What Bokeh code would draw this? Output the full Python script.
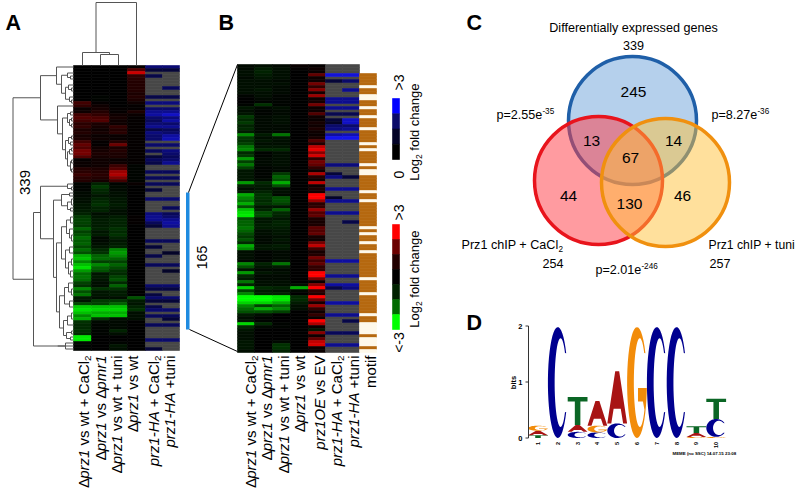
import math
import numpy as np
from bokeh.plotting import figure
from bokeh.models import ColumnDataSource, LinearColorMapper, Range1d
from bokeh.transform import transform
from bokeh.core.properties import value
from bokeh.embed import file_html
from bokeh.resources import INLINE

N = None
# ---------- Panel A heat map, tenths of log2 fold change, one list per column ----------
a_cacl2 = [0,0,0,0,0,0,0,0,0,0,
           0,0,10,8,2,3,10,12,10,7,
           8,5,6,4,5,10,14,12,16,16,
           12,1,2,2,6,7,9,7,6,-1,
           -1,-1,-2,-2,-3,-3,-4,-4,-5,-6,
           -9,-10,-10,-9,-14,-10,-12,-15,-13,-14,
           -11,-15,-12,-22,-24,-18,-24,-27,-20,-15,
           -16,-15,-10,-8,-18,-12,-16,-5,-4,-11,
           -25,-27,-24,-18,-22,-8,-7,-7,-8,-7,
           -28,-28,-2,-1,-1]
a_pmr1 = [0,0,0,0,0,0,0,0,0,0,
          -1,-1,1,3,4,6,8,11,12,5,
          4,3,4,2,3,1,1,3,4,5,
          4,3,3,3,5,6,7,6,4,-6,
          -9,-7,-6,-4,-6,-7,-8,-6,-6,-3,
          -4,-5,-5,-5,-6,-4,-5,-2,-2,-3,
          -4,-7,-8,-14,-15,-10,-18,-14,-12,-4,
          -5,-4,-3,-3,-8,-4,-4,-3,-9,-10,
          -24,-26,-22,-24,-8,-2,-1,-1,-1,-1,
          0,0,0,0,0]
a_tuni = [0,0,0,0,0,0,0,0,0,0,
          0,0,0,0,1,1,3,4,3,3,
          8,6,7,2,2,6,15,5,6,5,
          5,2,3,9,12,20,22,17,10,-1,
          -2,-2,-3,-3,-4,-4,-5,-4,-3,-3,
          -5,-6,-6,-6,-8,-7,-8,-6,-4,-5,
          -6,-18,-20,-18,-14,-10,-14,-11,-8,-7,
          -10,-12,-7,-14,-8,-5,-5,-3,-9,-14,
          -24,-26,-22,-24,-3,-2,-2,-2,-6,-3,
          0,0,-1,-4,-3]
a_wt = [1,12,25,8,7,6,6,6,6,5,
        6,5,3,1,1,5,2,1,1,1,
        1,1,1,1,1,1,1,1,1,1,
        1,1,1,-1,-1,-1,-1,-1,-1,2,
        0,0,0,0,0,0,0,0,0,0,
        1,1,1,0,0,0,0,0,0,0,
        0,0,0,0,0,0,0,0,0,0,
        0,0,0,0,0,0,0,-12,-5,-4,
        -6,-8,-3,-3,-3,0,0,0,0,0,
        0,0,0,0,0]
a_ha_cacl2 = [15,8,N,10,N,N,N,N,N,N,
              10,N,16,N,14,18,20,14,12,15,
              18,10,16,14,14,N,14,N,12,N,
              8,12,10,N,N,12,N,12,N,12,
              N,8,N,N,14,N,N,N,N,16,
              18,18,12,8,N,N,N,N,12,N,
              8,N,N,10,N,N,12,N,N,N,
              N,N,N,14,9,N,9,14,8,N,
              10,14,N,12,N,N,12,N,N,N,
              N,14,N,N,8]
a_ha_tuni = [15,8,N,N,N,N,N,12,N,N,
             10,N,16,N,14,18,24,16,20,14,
             18,12,14,20,22,N,14,N,16,14,
             12,14,18,N,N,12,N,12,N,12,
             N,N,N,N,14,N,N,12,N,12,
             14,18,20,18,N,N,N,N,12,N,
             N,N,6,N,N,N,12,N,6,N,
             N,N,N,14,9,N,N,14,8,N,
             N,14,N,12,8,N,12,N,N,N,
             N,14,N,N,N]

# ---------- Panel B heat map ----------
b_cacl2 = [-2,-2,-3,-3,-2,-3,-3,-3,-3,-3,
           -1,0,0,-1,-4,-3,-4,-9,-7,-9,
           -6,-7,-5,-18,-9,-8,-10,-16,-18,-7,
           -9,-20,-10,-16,-10,-4,-4,-4,-4,-20,
           -6,-3,-5,-22,-18,-16,-22,-12,-24,-27,
           -28,-12,-14,-14,-16,-14,-11,-9,-12,-7,
           -22,-18,-3,-3,-3,-2,-18,-12,-4,-20,
           -7,-5,-16,-6,-26,-10,-18,-30,-30,-26,
           -18,-15,-12,-5,-3,-4,-26,-7,-4,-3,
           -3,-3,-4,-4,-4,-3]
b_pmr1 = [-3,-5,-6,-5,-4,-3,-3,-3,-4,-3,
          -3,-2,-1,-8,-2,-1,-1,-2,-2,-2,
          -2,-2,-2,-5,-3,-4,-3,-4,-7,-1,
          -1,-2,-2,-2,-1,-1,-1,-1,-2,-7,
          -5,-4,-6,-8,-8,-7,-8,-4,-6,-11,
          -11,-4,-4,-5,-5,-3,-3,-2,-2,-2,
          -4,-4,-1,-1,-1,-1,-6,-4,-2,-4,
          -2,-2,-3,-3,-7,-5,-6,-30,-30,-26,
          -10,-22,-12,-3,-1,-1,-7,-2,0,0,
          0,0,0,0,0,0]
b_tuni = [-2,-3,-3,-3,-3,-2,-3,-2,-2,-2,
          -1,-1,-1,-1,-3,-2,-2,-3,-3,-3,
          -2,-2,-2,-16,-4,-3,-3,-4,-7,-3,
          -3,-3,-3,-3,-2,-2,-9,-14,-12,-22,
          -12,-3,-3,-2,-12,-12,-10,-4,-14,-7,
          -6,-4,-6,-6,-5,-4,-4,-3,-4,-3,
          -5,-4,-2,-2,-2,-3,-16,-5,-2,-3,
          -2,-2,-3,-3,-6,-4,-6,-28,-28,-22,
          -14,-18,-10,0,0,0,-1,-1,0,0,
          0,0,-2,-8,-8,-6]
b_wt = [2,1,0,0,0,0,0,0,0,0,
        0,0,0,0,0,0,0,0,0,0,
        0,0,0,0,0,0,0,0,0,0,
        0,0,0,0,0,0,0,0,0,0,
        0,0,0,0,0,0,0,0,0,0,
        0,0,0,0,0,0,0,0,0,0,
        0,0,0,0,0,0,0,0,0,0,
        0,0,0,-3,-22,-2,0,-7,-7,-5,
        -3,-3,0,0,0,0,0,0,0,0,
        0,0,0,0,0,0]
b_oe = [1,3,2,14,3,3,16,8,18,4,
        20,3,4,16,3,3,12,3,2,4,
        3,5,3,2,4,12,6,24,28,18,
        26,8,16,14,8,3,22,6,3,24,
        3,5,4,30,30,20,7,8,20,12,
        14,5,4,5,13,12,14,4,3,16,
        24,10,4,6,16,10,14,8,8,30,
        30,16,2,18,30,8,6,30,16,4,
        20,8,3,8,3,30,22,2,-4,18,
        3,14,24,26,3,2]
b_ha_cacl2 = [N,N,N,26,N,8,N,N,N,N,
              N,18,18,N,18,N,11,N,8,6,
              14,16,N,20,28,N,N,N,N,N,
              N,N,N,16,N,N,8,16,N,N,
              N,18,N,N,6,18,N,N,N,18,
              N,N,N,N,N,N,N,N,N,N,
              N,N,N,N,N,20,N,N,N,N,
              18,N,N,20,10,N,N,N,N,20,
              N,N,N,18,N,N,N,N,N,12,
              N,N,N,18,N,N]
b_ha_tuni = [N,N,N,26,N,14,N,N,18,N,
             N,18,18,N,18,N,11,N,24,24,
             14,18,N,22,28,N,N,N,N,N,
             N,N,N,16,N,N,N,8,N,N,
             N,18,N,N,N,18,N,N,N,18,
             N,N,10,N,N,N,N,N,N,N,
             N,N,N,N,N,20,N,N,N,N,
             18,N,N,20,16,N,N,N,N,20,
             N,N,N,18,N,10,N,N,N,12,
             N,N,N,18,N,N]
b_motif = [N,N,N,1,1,1,1,0,1,1,
           0,0,1,1,0,1,1,0,1,1,
           1,0,1,1,1,1,0,1,0,1,
           1,1,1,0,1,0,0,1,1,1,
           1,1,0,1,1,0,1,1,1,1,
           1,1,1,1,0,1,0,1,1,0,
           1,1,0,1,1,1,1,1,1,1,
           1,0,1,1,1,1,0,1,1,1,
           1,1,1,0,1,1,0,0,0,0,
           1,0,0,0,1,0]

colorbar_rg = [30, 15, 6, 0, -6, -15, -30]
colorbar_blue = [30, 14, 6, 0]

# Dendrograms: [height, child, child]; a leaf is a row or column number
column_tree = [63, [13, 0, [11, 1, 2]], 3]
row_tree = [60.5,
  [33,
    [17, 0, [12, [6, 2, [3, 3, 4]], [8, [5, 6, [2, 7, 8]], [4, 10, [2, 11, 12]]]]],
    [16, 13, [11, [6, [3, 15, 16], [4, [2, 17, 18], [2, 19, 20]]],
                  [8, [5, [2, 23, 24], [3, 25, 26]],
                      [6, [4, [2, 27, 28], 29], [3, [2, 31, 32], [2, 34, 35]]]]]]],
  [40,
    [33,
      [6, 39, [2, 40, 41]],
      [20,
        [12, [4, 42, 43], [6, [2, 44, 46], [3, 47, 48]]],
        [17,
          [12, [7, [3, 50, 52], [4, 54, [2, 56, 58]]], [8, [4, 60, 62], [5, [2, 64, 66], [3, 68, 70]]]],
          [14, [9, [5, 72, [2, 74, 76]], [4, 78, 80]], [10, [6, [2, 82, 84], 86], [7, [2, 88, 89], [3, 90, 91]]]]]]],
    [16, 93, [8, 92, 94]]]]

# Sequence logo: letters bottom-up with their height in bits
logo_1 = [("T", .05), ("A", .08), ("G", .09)]
logo_2 = [("C", 1.98)]
logo_3 = [("C", .11), ("A", .12), ("T", .50)]
logo_4 = [("C", .10), ("G", .12), ("A", .44)]
logo_5 = [("C", .26), ("A", .93)]
logo_6 = [("G", 1.98)]
logo_7 = [("C", 1.98)]
logo_8 = [("C", 1.98)]
logo_9 = [("G", .02), ("A", .07), ("T", .12)]
logo_10 = [("G", .02), ("C", .32), ("T", .36)]
logo_positions = [logo_1, logo_2, logo_3, logo_4, logo_5, logo_6, logo_7, logo_8, logo_9, logo_10]

venn_counts = ["245", "13", "14", "67", "44", "130", "46"]

# ---------- Figure ----------
FONT = value("Liberation Sans")
p = figure(width=800, height=495, output_backend="svg", toolbar_location=None,
           x_range=Range1d(0, 800), y_range=Range1d(495, 0),
           x_axis_type=None, y_axis_type=None, min_border=0, outline_line_color=None)

# Colour maps: steeper near black, as in the colour keys
rg_pal = []
for v in range(-30, 31):
    t = int(round(255 * (abs(v) / 30) ** 1.25))
    rg_pal.append("#%02x%02x%02x" % ((t, 0, 0) if v > 0 else (0, t, 0)))
blue_pal = ["#%02x%02x%02x" % (int(22 * (v / 30)), int(22 * (v / 30)), int(round(255 * (v / 30) ** 1.15))) for v in range(0, 31)]
blue_pal[-1] = "#0000ff"
rg_map = LinearColorMapper(palette=rg_pal, low=-30, high=30)
blue_map = LinearColorMapper(palette=blue_pal, low=0, high=30)
GRAY = "#474747"


def column(values, left, right, top, rh, mapper):
    have = [i for i, x in enumerate(values) if x is not None]
    gone = [i for i, x in enumerate(values) if x is None]
    src = ColumnDataSource(dict(
        l=[left] * len(have), r=[right] * len(have),
        t=[top + i * rh for i in have], b=[top + (i + 1) * rh for i in have],
        v=[float(values[i]) for i in have]))
    if gone:
        p.quad(left=[left] * len(gone), right=[right] * len(gone),
               top=[top + i * rh for i in gone], bottom=[top + (i + 1) * rh for i in gone],
               fill_color=GRAY, line_color=GRAY, line_width=0.6)
    p.quad(left="l", right="r", top="t", bottom="b", source=src,
           fill_color=transform("v", mapper), line_color=transform("v", mapper), line_width=0.6)


A_TOP, B_TOP, RH = 65, 64, 3
a_edges = [73, 91, 109, 127, 145, 162, 179]
for vals, i, m in [(a_cacl2, 0, rg_map), (a_pmr1, 1, rg_map), (a_tuni, 2, rg_map), (a_wt, 3, rg_map),
                   (a_ha_cacl2, 4, blue_map), (a_ha_tuni, 5, blue_map)]:
    column(vals, a_edges[i], a_edges[i + 1], A_TOP, RH, m)
b_edges = [237, 254, 272, 290, 308, 325, 342, 359]
for vals, i, m in [(b_cacl2, 0, rg_map), (b_pmr1, 1, rg_map), (b_tuni, 2, rg_map), (b_wt, 3, rg_map), (b_oe, 4, rg_map),
                   (b_ha_cacl2, 5, blue_map), (b_ha_tuni, 6, blue_map)]:
    column(vals, b_edges[i], b_edges[i + 1], B_TOP, RH, m)

# motif strip
mt = [(i, v) for i, v in enumerate(b_motif) if v is not None]
mc = ["#b5680f" if v else "#fef8ea" for _, v in mt]
p.quad(left=[359] * len(mt), right=[376] * len(mt),
       top=[B_TOP + i * RH for i, _ in mt], bottom=[B_TOP + (i + 1) * RH for i, _ in mt],
       fill_color=mc, line_color=mc, line_width=0.6)

# colour keys
column(colorbar_blue, 392, 399, 98, 15.25, blue_map)
column(colorbar_rg, 392, 399, 224, 15, rg_map)

# dendrograms
seg_x, seg_y = [], []


def rows_tree(node):
    if not isinstance(node, list):
        return 0, node * RH + A_TOP + RH / 2
    h, a, b = node
    ha, ya = rows_tree(a)
    hb, yb = rows_tree(b)
    x = 73 - h
    seg_x.append([73 - ha, x, x, 73 - hb])
    seg_y.append([ya, ya, yb, yb])
    return h, (ya + yb) / 2


def cols_tree(node):
    if not isinstance(node, list):
        return 0, (a_edges[node] + a_edges[node + 1]) / 2
    h, a, b = node
    ha, xa = cols_tree(a)
    hb, xb = cols_tree(b)
    y = 65 - h
    seg_x.append([xa, xa, xb, xb])
    seg_y.append([65 - ha, y, y, 65 - hb])
    return h, (xa + xb) / 2


rows_tree(row_tree)
cols_tree(column_tree)
p.multi_line(seg_x, seg_y, line_color="#555555", line_width=1)

# bracket between A and B
p.quad(left=[185.5], right=[189], top=[192], bottom=[329], fill_color="#1f8be0", line_color=None)
p.line([188, 237], [192, 64], line_color="black", line_width=1)
p.line([189, 237], [329, 351], line_color="black", line_width=1)

# ---------- Text helpers ----------
W = {' ': 278, '+': 584, '-': 333, '=': 584, '.': 278, '1': 556, '2': 556, '3': 556, '4': 556, '5': 556, '6': 556, '7': 556,
     '8': 556, '9': 556, '0': 556, 'Δ': 612, 'A': 667, 'C': 722, 'E': 667, 'H': 722, 'I': 278, 'L': 556, 'P': 667, 'O': 778,
     'V': 667, 'a': 556, 'c': 500, 'd': 556, 'e': 556, 'f': 278, 'g': 556, 'h': 556, 'i': 222, 'l': 222, 'm': 833, 'n': 556,
     'o': 556, 'p': 556, 'r': 333, 's': 500, 't': 278, 'u': 556, 'v': 500, 'w': 722, 'z': 500}


def width(s, size):
    return sum(W.get(c, 556) for c in s) * size / 1000


def label(x, y, text, size, style="normal", align="left", baseline="middle", angle=0.0, color="black"):
    p.text(x=[x], y=[y], text=[text], text_font=FONT, text_font_size="%.1fpx" % size, text_font_style=style,
           text_align=align, text_baseline=baseline, angle=angle, text_color=color)


def rich_v(x, y_top, parts, size):
    """Bottom-to-top rotated text whose end sits at y_top. parts: (text, kind)"""
    total = sum(width(t, size * (.65 if k == "sub" else 1)) for t, k in parts)
    y = y_top + total
    for t, k in parts:
        s = size * (.65 if k == "sub" else 1)
        lead = width(" ", s) * (len(t) - len(t.lstrip(" ")))
        label(x + (4 if k == "sub" else 0), y - lead, t.strip(" "), s, style="italic" if k == "i" else "normal",
              angle=math.pi / 2)
        y -= width(t, s)


def rich_h(x, y, parts, size):
    for t, k in parts:
        s = size * (.65 if k in ("sub", "sup") else 1)
        dy = {"sub": 4, "sup": -4}.get(k, 0)
        label(x, y + dy, t, s)
        x += width(t, s)


L_CACL = [("Δ", "n"), ("prz1", "i"), (" vs wt + CaCl", "n"), ("2", "sub")]
L_PMR = [("Δ", "n"), ("prz1", "i"), (" vs Δ", "n"), ("pmr1", "i")]
L_TUNI = [("Δ", "n"), ("prz1", "i"), (" vs wt + tuni", "n")]
L_WT = [("Δ", "n"), ("prz1", "i"), (" vs wt", "n")]
L_HA_C = [("prz1-HA", "i"), (" + CaCl", "n"), ("2", "sub")]
L_HA_T = [("prz1-HA", "i"), (" +tuni", "n")]
L_OE = [("prz1OE", "i"), (" vs EV", "n")]
L_MOTIF = [("motif", "n")]
LS = 15.0
for x, parts in zip([83, 100, 116, 132, 153, 169], [L_CACL, L_PMR, L_TUNI, L_WT, L_HA_C, L_HA_T]):
    rich_v(x, 355, parts, LS)
for x, parts in zip([250, 266, 283, 299, 319, 336, 353, 370],
                    [L_CACL, L_PMR, L_TUNI, L_WT, L_OE, L_HA_C, L_HA_T, L_MOTIF]):
    rich_v(x, 355, parts, LS)

for t, x, y in [("A", 5, 22), ("B", 218, 22), ("C", 466, 22), ("D", 466, 322)]:
    label(x, y, t, 21.5, style="bold", baseline="alphabetic")

label(24, 182, "339", 15, align="center", angle=math.pi / 2)
label(201, 257, "165", 14, align="center", angle=math.pi / 2)

label(398, 82, ">3", 14, align="center", angle=math.pi / 2)
label(398, 174, "0", 14, align="center", angle=math.pi / 2)
label(398, 212, ">3", 14, align="center", angle=math.pi / 2)
label(398, 342, "<-3", 14, align="center", angle=math.pi / 2)
rich_v(414, 83, [("Log", "n"), ("2", "sub"), (" fold change", "n")], 13)
rich_v(414, 230, [("Log", "n"), ("2", "sub"), (" fold change", "n")], 13)

# ---------- Venn ----------
R = 64
p.circle(x=[632], y=[120], radius=R, fill_color="#5b97d5", fill_alpha=.45, line_color="#1f5fa8", line_width=3.5)
p.circle(x=[598], y=[180], radius=R, fill_color="#ff3f48", fill_alpha=.52, line_color="#e8141c", line_width=3.5)
p.circle(x=[665], y=[182], radius=R, fill_color="#ffc23a", fill_alpha=.50, line_color="#f0900f", line_width=3.5)
for txt, x, y in zip(venn_counts, [633, 591, 673, 630, 568, 629, 682], [91, 140, 140, 157, 195, 203, 195]):
    label(x, y, txt, 15.5, align="center")
VS = 12.6
label(633, 27, "Differentially expressed genes", VS, align="center")
label(633, 45, "339", VS, align="center")
rich_h(496, 114, [("p=2.55e", "n"), ("-35", "sup")], VS)
rich_h(711, 114, [("p=8.27e", "n"), ("-36", "sup")], VS)
rich_h(595, 269, [("p=2.01e", "n"), ("-246", "sup")], VS)
rich_h(461, 244, [("Prz1 chIP + CaCl", "n"), ("2", "sub")], VS)
label(542, 263, "254", VS)
label(708, 244, "Prz1 chIP + tuni", 12.2)
label(709, 263, "257", VS)

# ---------- Sequence logo ----------
BASE, BIT = 437.5, 56.0


def arc(cx, rx, ry, a0, a1):
    t = np.radians(np.linspace(a0, a1, 40))
    return cx + rx * np.cos(t), .5 + ry * np.sin(t)


def c_shape():
    ox, oy = arc(.5, .5, .5, 32, 328)
    ix, iy = arc(.64, .30, .40, 318, 42)
    return list(ox) + list(ix), list(oy) + list(iy)


def g_shape():
    ox, oy = arc(.5, .5, .5, 32, 360)
    ix, iy = arc(.64, .30, .40, 322, 42)
    return (list(ox) + [1, .55, .55, .80] + list(ix),
            list(oy) + [.45, .45, .33, .33] + list(iy))


SHAPES = {"C": c_shape(), "G": g_shape(),
          "T": ([.36, .64, .64, 1, 1, 0, 0, .36], [0, 0, .84, .84, 1, 1, .84, .84]),
          "A": ([0, .2, .32, .68, .8, 1, .6, .5, .5, .40, .60, .5, .5, .4],
                [0, 0, .28, .28, 0, 0, 1, 1, .72, .40, .40, .72, 1, 1])}
LOGO_COL = {"A": "#a81414", "C": "#00008f", "G": "#f28c0a", "T": "#0b6625"}
xs_l, ys_l, cs_l = [], [], []
for i, stack in enumerate(logo_positions):
    cx = 537.5 + i * 19.8
    acc = 0.0
    for ch, h in stack:
        sx, sy = SHAPES[ch]
        xs_l.append([cx - 9.9 + a * 19.8 for a in sx])
        ys_l.append([BASE - (acc + b * h) * BIT for b in sy])
        cs_l.append(LOGO_COL[ch])
        acc += h
p.patches(xs_l, ys_l, fill_color=cs_l, line_color=None)
p.line([528, 528], [BASE - 2 * BIT, BASE], line_color="#333333", line_width=1)
for v in (0, 1, 2):
    p.line([525, 528], [BASE - v * BIT, BASE - v * BIT], line_color="#333333", line_width=1)
    label(522, BASE - v * BIT, str(v), 7.5, style="bold", align="right")
label(513, 382, "bits", 7.5, style="bold", align="center", angle=math.pi / 2)
for i in range(10):
    label(537.5 + i * 19.8, 441.5, str(i + 1), 5.5, style="bold", align="right", angle=math.pi / 2)
label(672, 453, "MEME (no SSC) 14.07.15 23:08", 4.4, style="bold")

html = file_html(p, INLINE)
open("out.html", "w").write(html)
